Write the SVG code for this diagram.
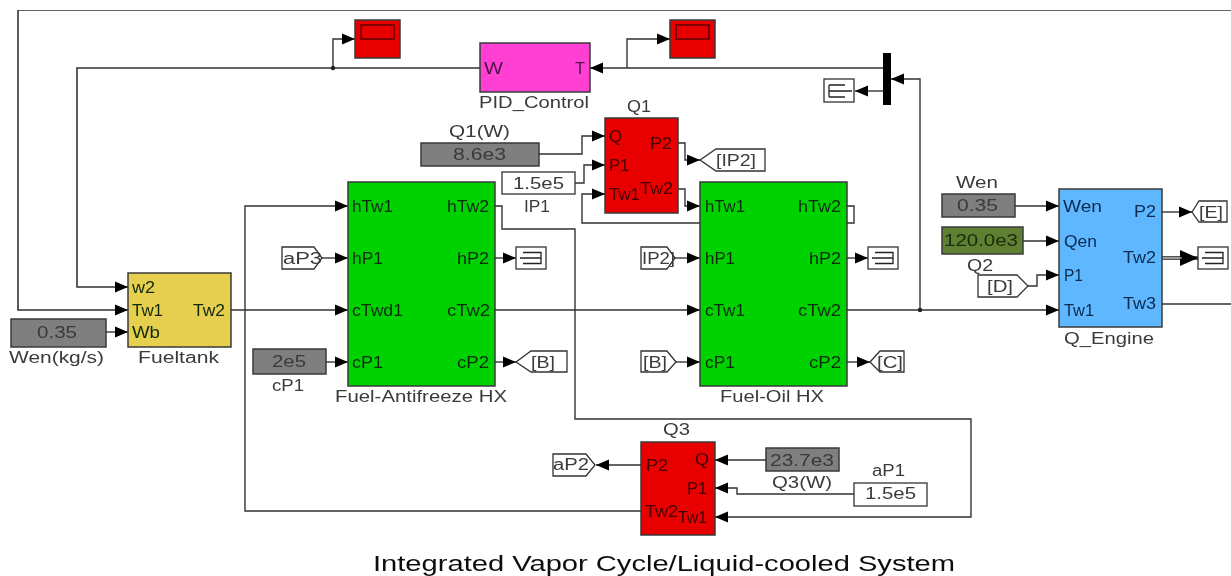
<svg xmlns="http://www.w3.org/2000/svg" width="1231" height="576" viewBox="0 0 1231 576">
<style>
text{font-family:"Liberation Sans",Arial,sans-serif;font-size:16px;fill:#3a3a3a}
.p{fill:#102a10}
.b{stroke:#3a3a3a;stroke-width:1.5}
.w{fill:#fff;stroke:#333;stroke-width:1.3}
.c{fill:none;stroke:#333;stroke-width:1.4}
.t{fill:none;stroke:#222;stroke-width:1.3}
.g{fill:#7f7f7f}
.grn{fill:#00d200}
.red{fill:#e80000}
</style>
<defs>
<marker id="a" markerUnits="userSpaceOnUse" markerWidth="14" markerHeight="12" refX="13" refY="6" orient="auto"><path d="M0 0.500L13 6L0 11.500Z" fill="#000"/></marker>
<marker id="s" markerUnits="userSpaceOnUse" markerWidth="18" markerHeight="16" refX="18" refY="8" orient="auto"><path d="M0 0L18 8L0 16Z" fill="#000"/></marker>
<filter id="blur" x="0" y="0" width="100%" height="100%"><feGaussianBlur stdDeviation="0.35"/></filter>
<g id="term"><rect class="w" x="0" y="0" width="30" height="22"/><path class="t" d="M7 5.500H25V16.500H7M4 11H25"/></g>
</defs>
<rect width="1231" height="576" fill="#fff"/>
<g filter="url(#blur)">
<g id="connectors" class="c">
<path d="M1231 10H18V310H128" marker-end="url(#a)" stroke-width="1.6"/>
<path d="M1162 304H1231"/>
<path d="M480 68H77V287H128" marker-end="url(#a)" stroke-width="1.6"/>
<path d="M333 68V39H355" marker-end="url(#a)"/>
<circle cx="333" cy="68" r="2.200" fill="#222" stroke="none"/>
<path d="M885 68H590" marker-end="url(#a)"/>
<path d="M627 68V39H670" marker-end="url(#a)"/>
<path d="M920 310V79H891" marker-end="url(#a)"/>
<path d="M883 91H855" marker-end="url(#a)"/>
<path d="M847 310H1059" marker-end="url(#a)"/>
<circle cx="920" cy="310" r="2.200" fill="#222" stroke="none"/>
<path d="M539 154H582V136H605" marker-end="url(#a)"/>
<path d="M575 183H584V165H605" marker-end="url(#a)"/>
<path d="M847 206H854V223H582V194H605" marker-end="url(#a)"/>
<path d="M678 143H685V160H700" marker-end="url(#a)"/>
<path d="M678 189H685V206H700" marker-end="url(#a)"/>
<path d="M495 206H502V229H575V419H971V517H715" marker-end="url(#a)"/>
<path d="M641 511H245V206H348" marker-end="url(#a)"/>
<path d="M231 310H348" marker-end="url(#a)"/>
<path d="M106 332H128" marker-end="url(#a)"/>
<path d="M322 258H348" marker-end="url(#a)"/>
<path d="M326 362H348" marker-end="url(#a)"/>
<path d="M495 258H516" marker-end="url(#a)"/>
<path d="M495 310H700" marker-end="url(#a)"/>
<path d="M495 362H516" marker-end="url(#a)"/>
<path d="M675 258H700" marker-end="url(#a)"/>
<path d="M675 362H700" marker-end="url(#a)"/>
<path d="M847 258H868" marker-end="url(#a)"/>
<path d="M847 362H870" marker-end="url(#a)"/>
<path d="M1015 206H1059" marker-end="url(#a)"/>
<path d="M1023 241H1059" marker-end="url(#a)"/>
<path d="M1028 286H1037V275H1059" marker-end="url(#a)"/>
<path d="M1162 212H1192" marker-end="url(#a)"/>
<path d="M1162 258H1198" marker-end="url(#s)" stroke-width="4" stroke="#555"/>
<path d="M1162 258H1182" stroke="#ddd" stroke-width="1"/>
<path d="M641 465H596" marker-end="url(#a)"/>
<path d="M766 460H715" marker-end="url(#a)"/>
<path d="M854 494H737V488H715" marker-end="url(#a)"/>
</g>
<g id="scope1"><rect class="b red" x="355" y="20" width="45" height="38"/><rect x="361" y="25" width="33" height="14" fill="none" stroke="#400" stroke-width="1.3"/></g>
<g id="scope2"><rect class="b red" x="670" y="20" width="45" height="38"/><rect x="676" y="25" width="33" height="14" fill="none" stroke="#400" stroke-width="1.3"/></g>
<g id="pid"><rect class="b" x="480" y="43" width="110" height="49" fill="#ff40d2"/>
<text x="484" y="74" textLength="19" lengthAdjust="spacingAndGlyphs" style="fill:#50104a">W</text>
<text x="575" y="74" textLength="10" lengthAdjust="spacingAndGlyphs" style="fill:#50104a">T</text>
<text x="479" y="108" textLength="110" lengthAdjust="spacingAndGlyphs">PID_Control</text></g>
<g id="mux"><rect x="883" y="53" width="8" height="52" fill="#000"/></g>
<g id="termE"><rect class="w" x="824" y="79" width="30" height="23"/><path class="t" d="M829 85H845M829 97H845M829 85V97M829 91H852"/></g>
<g id="q1"><rect class="b red" x="605" y="118" width="73" height="95"/>
<text x="609" y="142" textLength="13" lengthAdjust="spacingAndGlyphs" style="fill:#400">Q</text>
<text x="609" y="171" textLength="20" lengthAdjust="spacingAndGlyphs" style="fill:#400">P1</text>
<text x="609" y="200" textLength="31" lengthAdjust="spacingAndGlyphs" style="fill:#400">Tw1</text>
<text x="650" y="149" textLength="22" lengthAdjust="spacingAndGlyphs" style="fill:#400">P2</text>
<text x="640" y="194" textLength="33" lengthAdjust="spacingAndGlyphs" style="fill:#400">Tw2</text>
<text x="627" y="112" textLength="24" lengthAdjust="spacingAndGlyphs">Q1</text></g>
<g id="q1w"><rect class="b g" x="421" y="143" width="118" height="23"/>
<text x="453" y="160" textLength="53" lengthAdjust="spacingAndGlyphs">8.6e3</text>
<text x="449" y="137" textLength="61" lengthAdjust="spacingAndGlyphs">Q1(W)</text></g>
<g id="ip1"><rect class="w" x="502" y="172" width="73" height="22"/>
<text x="513" y="189" textLength="51" lengthAdjust="spacingAndGlyphs">1.5e5</text>
<text x="524" y="212" textLength="26" lengthAdjust="spacingAndGlyphs">IP1</text></g>
<g id="gotoIP2"><path class="w" d="M700 160L716 149H765V171H716Z"/>
<text x="716" y="166" textLength="40" lengthAdjust="spacingAndGlyphs">[IP2]</text></g>
<g id="fueltank"><rect class="b" x="128" y="273" width="103" height="74" fill="#e6cf50"/>
<text x="132" y="293" textLength="23" lengthAdjust="spacingAndGlyphs" class="p">w2</text>
<text x="132" y="316" textLength="31" lengthAdjust="spacingAndGlyphs" class="p">Tw1</text>
<text x="132" y="338" textLength="28" lengthAdjust="spacingAndGlyphs" class="p">Wb</text>
<text x="193" y="316" textLength="32" lengthAdjust="spacingAndGlyphs" class="p">Tw2</text>
<text x="138" y="363" textLength="81" lengthAdjust="spacingAndGlyphs">Fueltank</text></g>
<g id="wenkgs"><rect class="b g" x="11" y="319" width="95" height="28"/>
<text x="37" y="338" textLength="40" lengthAdjust="spacingAndGlyphs">0.35</text>
<text x="9" y="363" textLength="95" lengthAdjust="spacingAndGlyphs">Wen(kg/s)</text></g>
<g id="hx1"><rect class="b grn" x="348" y="182" width="147" height="204"/>
<text x="352" y="212" textLength="41" lengthAdjust="spacingAndGlyphs" class="p">hTw1</text>
<text x="352" y="264" textLength="31" lengthAdjust="spacingAndGlyphs" class="p">hP1</text>
<text x="352" y="316" textLength="51" lengthAdjust="spacingAndGlyphs" class="p">cTwd1</text>
<text x="352" y="368" textLength="31" lengthAdjust="spacingAndGlyphs" class="p">cP1</text>
<text x="447" y="212" textLength="42" lengthAdjust="spacingAndGlyphs" class="p">hTw2</text>
<text x="457" y="264" textLength="32" lengthAdjust="spacingAndGlyphs" class="p">hP2</text>
<text x="447" y="316" textLength="43" lengthAdjust="spacingAndGlyphs" class="p">cTw2</text>
<text x="457" y="368" textLength="32" lengthAdjust="spacingAndGlyphs" class="p">cP2</text>
<text x="335" y="402" textLength="172" lengthAdjust="spacingAndGlyphs">Fuel-Antifreeze HX</text></g>
<g id="hx2"><rect class="b grn" x="700" y="182" width="147" height="204"/>
<text x="705" y="212" textLength="40" lengthAdjust="spacingAndGlyphs" class="p">hTw1</text>
<text x="705" y="264" textLength="30" lengthAdjust="spacingAndGlyphs" class="p">hP1</text>
<text x="705" y="316" textLength="40" lengthAdjust="spacingAndGlyphs" class="p">cTw1</text>
<text x="705" y="368" textLength="30" lengthAdjust="spacingAndGlyphs" class="p">cP1</text>
<text x="798" y="212" textLength="43" lengthAdjust="spacingAndGlyphs" class="p">hTw2</text>
<text x="809" y="264" textLength="32" lengthAdjust="spacingAndGlyphs" class="p">hP2</text>
<text x="798" y="316" textLength="43" lengthAdjust="spacingAndGlyphs" class="p">cTw2</text>
<text x="809" y="368" textLength="32" lengthAdjust="spacingAndGlyphs" class="p">cP2</text>
<text x="720" y="402" textLength="104" lengthAdjust="spacingAndGlyphs">Fuel-Oil HX</text></g>
<g id="fromaP3"><path class="w" d="M282 247H314L322 258L314 269H282Z"/>
<text x="283" y="264" textLength="39" lengthAdjust="spacingAndGlyphs">aP3</text></g>
<g id="cp1"><rect class="b g" x="253" y="349" width="73" height="25"/>
<text x="272" y="367" textLength="34" lengthAdjust="spacingAndGlyphs">2e5</text>
<text x="272" y="391" textLength="32" lengthAdjust="spacingAndGlyphs">cP1</text></g>
<g id="term1"><use href="#term" x="516" y="247"/></g>
<g id="gotoB"><path class="w" d="M516 362L531 351H567V372H531Z"/>
<text x="531" y="368" textLength="24" lengthAdjust="spacingAndGlyphs">[B]</text></g>
<g id="fromIP2"><path class="w" d="M641 247H667L675 258L667 269H641Z"/>
<text x="642" y="264" textLength="33" lengthAdjust="spacingAndGlyphs">IP2]</text></g>
<g id="fromB"><path class="w" d="M641 351H667L676 362L667 372H641Z"/>
<text x="643" y="368" textLength="24" lengthAdjust="spacingAndGlyphs">[B]</text></g>
<g id="term2"><use href="#term" x="868" y="247"/></g>
<g id="gotoC"><path class="w" d="M870 362L880 351H904V372H880Z"/>
<text x="877" y="368" textLength="26" lengthAdjust="spacingAndGlyphs">[C]</text></g>
<g id="wen"><rect class="b g" x="942" y="194" width="73" height="23"/>
<text x="957" y="211" textLength="41" lengthAdjust="spacingAndGlyphs">0.35</text>
<text x="956" y="188" textLength="42" lengthAdjust="spacingAndGlyphs">Wen</text></g>
<g id="q2"><rect class="b" x="942" y="227" width="81" height="27" fill="#5f8030"/>
<text x="944" y="246" textLength="74" lengthAdjust="spacingAndGlyphs" style="fill:#1a2a10">120.0e3</text>
<text x="967" y="271" textLength="26" lengthAdjust="spacingAndGlyphs">Q2</text></g>
<g id="fromD"><path class="w" d="M978 275H1017L1028 286L1017 297H978Z"/>
<text x="987" y="292" textLength="26" lengthAdjust="spacingAndGlyphs">[D]</text></g>
<g id="qengine"><rect class="b" x="1059" y="189" width="103" height="138" fill="#5fb8ff"/>
<text x="1063" y="212" textLength="39" lengthAdjust="spacingAndGlyphs" style="fill:#0a2a50">Wen</text>
<text x="1064" y="247" textLength="33" lengthAdjust="spacingAndGlyphs" style="fill:#0a2a50">Qen</text>
<text x="1064" y="281" textLength="19" lengthAdjust="spacingAndGlyphs" style="fill:#0a2a50">P1</text>
<text x="1064" y="316" textLength="30" lengthAdjust="spacingAndGlyphs" style="fill:#0a2a50">Tw1</text>
<text x="1134" y="217" textLength="22" lengthAdjust="spacingAndGlyphs" style="fill:#0a2a50">P2</text>
<text x="1123" y="263" textLength="33" lengthAdjust="spacingAndGlyphs" style="fill:#0a2a50">Tw2</text>
<text x="1123" y="309" textLength="33" lengthAdjust="spacingAndGlyphs" style="fill:#0a2a50">Tw3</text>
<text x="1064" y="344" textLength="90" lengthAdjust="spacingAndGlyphs">Q_Engine</text></g>
<g id="gotoE"><path class="w" d="M1192 212L1199 201H1227V222H1199Z"/>
<text x="1199" y="218" textLength="24" lengthAdjust="spacingAndGlyphs">[E]</text></g>
<g id="term3"><use href="#term" x="1198" y="247"/></g>
<g id="q3"><rect class="b red" x="641" y="442" width="74" height="93"/>
<text x="646" y="471" textLength="22" lengthAdjust="spacingAndGlyphs" style="fill:#400">P2</text>
<text x="695" y="465" textLength="14" lengthAdjust="spacingAndGlyphs" style="fill:#400">Q</text>
<text x="687" y="494" textLength="20" lengthAdjust="spacingAndGlyphs" style="fill:#400">P1</text>
<text x="678" y="523" textLength="29" lengthAdjust="spacingAndGlyphs" style="fill:#400">Tw1</text>
<text x="645" y="517" textLength="33" lengthAdjust="spacingAndGlyphs" style="fill:#400">Tw2</text>
<text x="663" y="435" textLength="27" lengthAdjust="spacingAndGlyphs">Q3</text></g>
<g id="fromaP2"><path class="w" d="M553 454H586L595 465L586 476H553Z"/>
<text x="553" y="470" textLength="36" lengthAdjust="spacingAndGlyphs">aP2</text></g>
<g id="q3w"><rect class="b g" x="766" y="448" width="73" height="23"/>
<text x="770" y="466" textLength="64" lengthAdjust="spacingAndGlyphs">23.7e3</text>
<text x="772" y="488" textLength="60" lengthAdjust="spacingAndGlyphs">Q3(W)</text></g>
<g id="ap1"><rect class="w" x="854" y="483" width="73" height="23"/>
<text x="865" y="499" textLength="51" lengthAdjust="spacingAndGlyphs">1.5e5</text>
<text x="872" y="476" textLength="33" lengthAdjust="spacingAndGlyphs">aP1</text></g>
<text id="title" x="373" y="571" textLength="582" lengthAdjust="spacingAndGlyphs" style="font-size:22px;fill:#111">Integrated Vapor Cycle/Liquid-cooled System</text>
</g>
</svg>
